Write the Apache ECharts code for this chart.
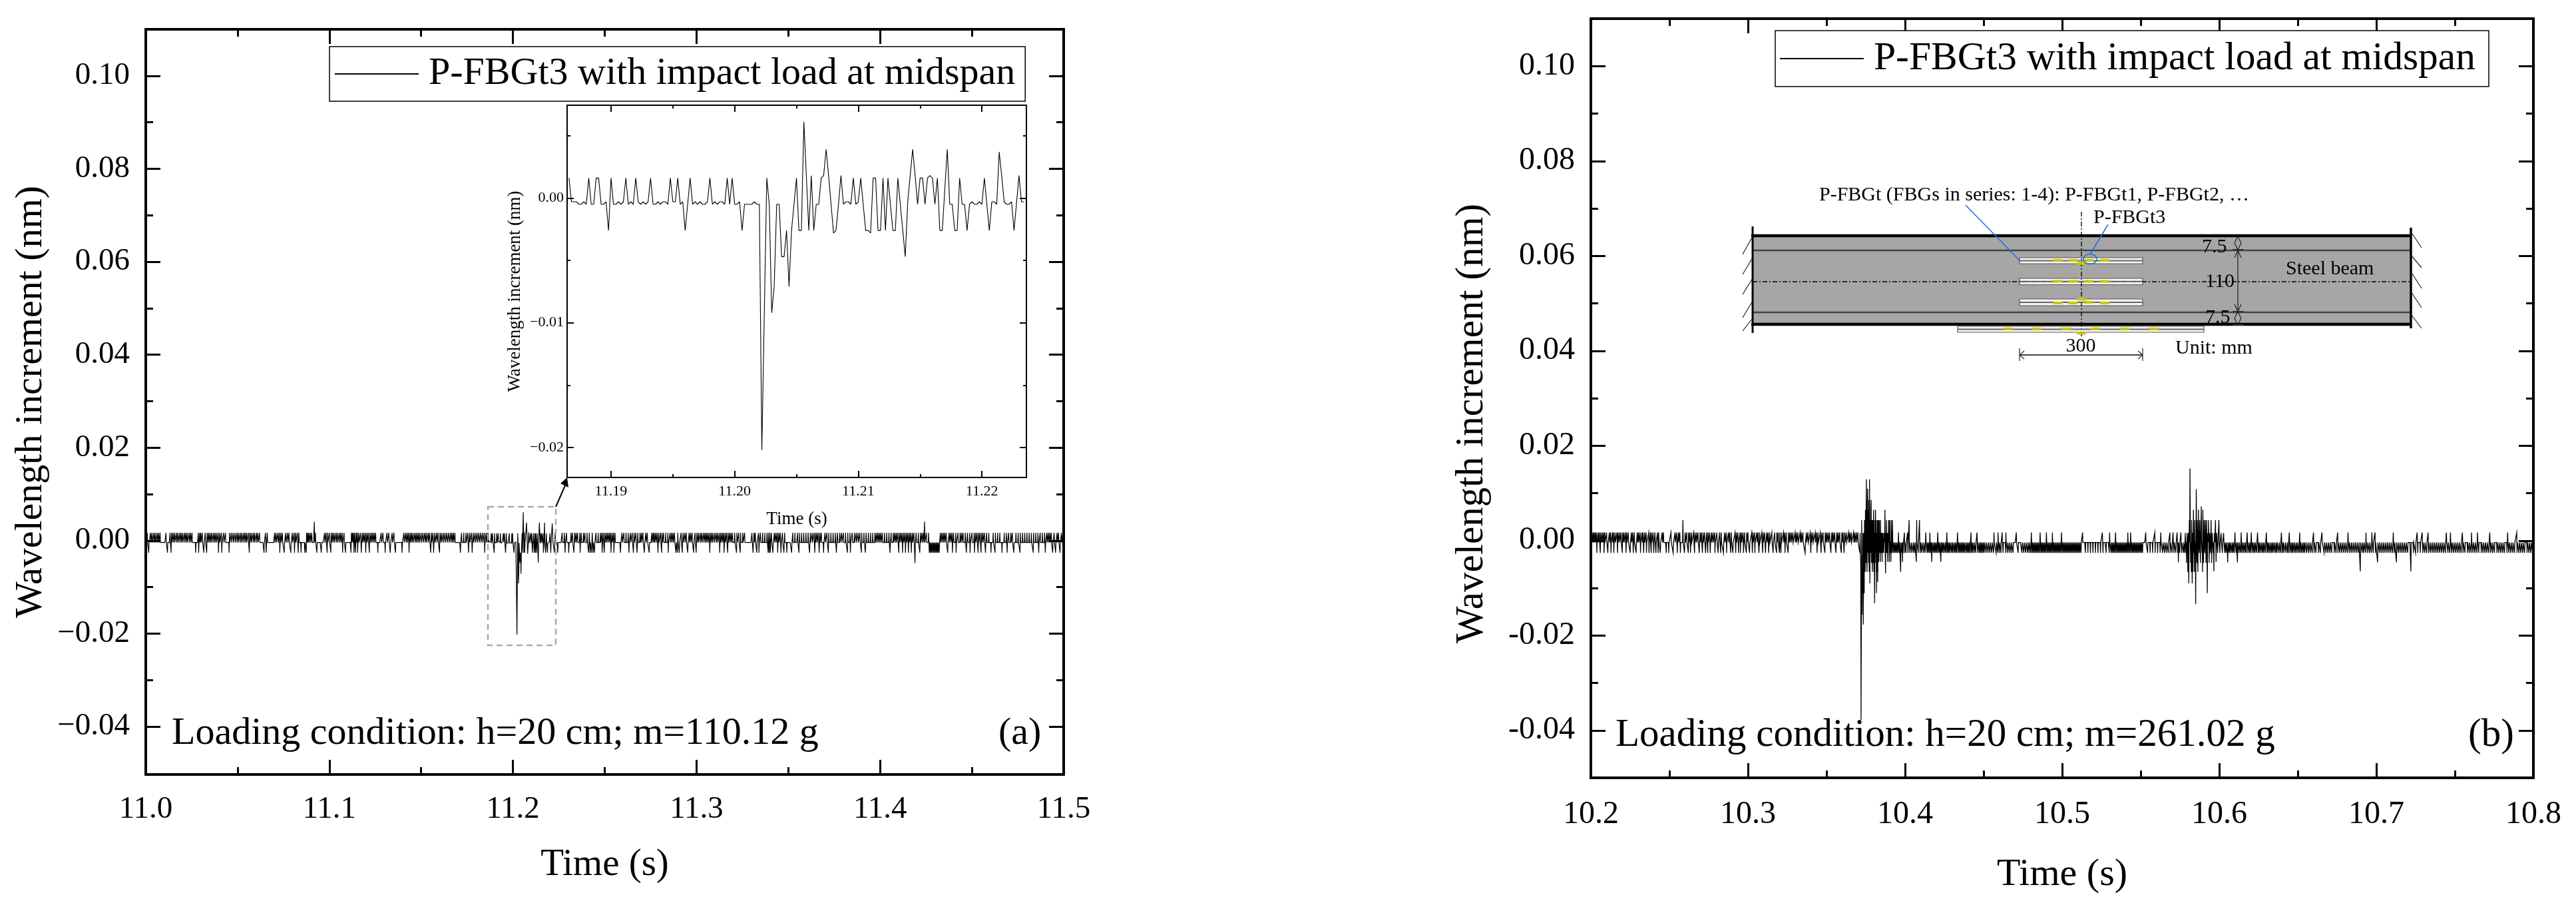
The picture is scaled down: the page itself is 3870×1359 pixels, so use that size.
<!DOCTYPE html>
<html>
<head>
<meta charset="utf-8">
<style>html,body{margin:0;padding:0;background:#fff}#c{width:3870px;height:1359px}</style>
<script src="https://cdn.jsdelivr.net/npm/echarts@6/dist/echarts.min.js"></script>
</head>
<body>
<div id="c"></div>
<script>
const seriesName = 'P-FBGt3 with impact load at midspan';
const yTicks = [-0.04,-0.02,0,0.02,0.04,0.06,0.08,0.10];
const yMinorTicks = [-0.03,-0.01,0.01,0.03,0.05,0.07,0.09];
const xTicksA = [11.0,11.1,11.2,11.3,11.4,11.5];
const xMinorA = [11.05,11.15,11.25,11.35,11.45];
const xTicksB = [10.2,10.3,10.4,10.5,10.6,10.7,10.8];
const xMinorB = [10.25,10.35,10.45,10.55,10.65,10.75];
const xTicksInset = [11.19,11.20,11.21,11.22];
const xMinorInset = [11.195,11.205,11.215];
const yTicksInset = [-0.02,-0.01,0];
const yMinorInset = [-0.015,-0.005,0.005];

const sampleStep = 0.0002;      // seconds between samples
const baseLevel = -0.0004, upLevel = 0.0017, downLevel = -0.0026;

// Inset: every sample, starting at sample 933 of panel (a)
const insetStartSample = 933;
const insetValues = [0.0016,-0.0003,-0.0003,-0.0003,-0.0005,-0.0005,-0.0003,-0.0005,0.0016,-0.0005,-0.0005,0.0016,0.0016,-0.0005,-0.0005,-0.0003,-0.0026,0.0016,-0.0005,-0.0005,-0.0003,-0.0005,-0.0003,0.0016,-0.0005,-0.0003,-0.0005,0.0016,-0.0003,-0.0005,-0.0003,-0.0005,-0.0003,0.0016,-0.0005,-0.0005,-0.0003,-0.0005,-0.0003,-0.0003,-0.0005,0.0016,-0.0003,-0.0003,0.0016,-0.0005,-0.0003,-0.0026,-0.0005,0.0016,-0.0005,-0.0003,-0.0005,-0.0003,-0.0005,-0.0005,-0.0003,0.0016,-0.0005,-0.0003,-0.0005,-0.0003,-0.0003,-0.0005,0.0016,-0.0005,0.0016,-0.0005,-0.0005,-0.0003,-0.0026,-0.0005,-0.0005,-0.0005,-0.0005,-0.0003,-0.0005,-0.0005,-0.0202,-0.0092,0.0016,-0.0005,-0.0092,-0.0071,-0.0005,-0.0005,-0.0047,-0.0047,-0.0026,-0.0071,-0.0026,-0.0005,0.0016,-0.0026,-0.0026,0.0061,0.0018,-0.0026,0.0018,-0.0026,-0.0005,-0.0005,0.0016,0.0018,0.0039,0.0018,-0.0005,-0.0028,-0.0026,-0.0005,0.0018,-0.0005,-0.0003,-0.0003,-0.0005,0.0016,-0.0005,-0.0003,0.0016,-0.0005,-0.0026,-0.0026,-0.0028,0.0016,0.0016,-0.0026,-0.0026,0.0016,-0.0026,0.0016,-0.0005,-0.0026,-0.0026,0.0016,-0.0005,-0.0026,-0.0047,-0.0003,0.0018,0.0039,0.0018,-0.0005,0.0016,0.0016,-0.0005,0.0016,0.0018,0.0016,-0.0005,0.0016,-0.0026,-0.0026,0.0007,0.0039,-0.0005,-0.0005,-0.0026,-0.0026,0.0016,-0.0005,-0.0005,-0.0026,-0.0005,-0.0003,-0.0005,-0.0005,-0.0003,-0.0005,0.0016,-0.0005,-0.0026,-0.0003,-0.0003,-0.0005,0.0037,0.0018,-0.0003,-0.0005,-0.0005,-0.0003,-0.0026,-0.0004,0.0018,-0.0003,-0.0003];

// Panel (a): sample numbers of the spikes, 0.2 ms per sample from 11.0 s
const aSampleCount = 2500;
const aUp = [4,8,13,17,22,26,31,35,39,55,59,66,70,74,78,83,87,92,96,100,105,109,113,118,122,126,143,147,150,154,158,162,167,171,175,179,184,188,192,197,201,206,212,217,228,233,238,243,248,252,257,261,266,270,274,279,283,287,292,296,301,305,310,326,331,351,355,360,364,368,372,377,381,386,390,395,399,404,408,413,417,438,441,444,448,452,462,487,491,495,500,505,509,513,518,522,527,531,535,540,560,563,566,569,573,576,580,585,590,594,598,602,606,610,614,618,622,626,641,646,652,657,662,666,671,676,680,698,703,708,712,716,720,724,728,733,737,741,745,750,755,760,764,769,773,778,782,787,792,796,801,805,810,815,820,825,830,834,838,842,860,866,872,877,882,887,892,897,902,907,912,917,922,927,931,1134,1140,1146,1158,1162,1168,1172,1176,1182,1186,1192,1196,1202,1208,1216,1222,1226,1232,1238,1242,1246,1250,1254,1258,1262,1266,1270,1274,1278,1297,1302,1308,1314,1320,1325,1330,1335,1340,1346,1350,1354,1358,1362,1366,1378,1382,1385,1389,1393,1397,1402,1406,1410,1416,1422,1428,1432,1436,1440,1444,1449,1453,1458,1463,1468,1472,1476,1480,1484,1488,1492,1496,1501,1505,1510,1514,1519,1523,1527,1531,1535,1539,1543,1548,1553,1557,1562,1566,1570,1574,1578,1582,1586,1590,1594,1598,1604,1610,1615,1620,1626,1631,1651,1654,1657,1660,1664,1669,1674,1680,1686,1692,1696,1700,1704,1708,1712,1716,1720,1724,1728,1734,1740,1762,1768,1775,1780,1786,1792,1798,1804,1810,1815,1820,1824,1828,1832,1836,1840,1846,1850,1855,1860,1866,1872,1878,1884,1890,1895,1900,1906,1912,1918,1924,1930,1935,1940,1945,1950,1956,1962,1968,1974,1980,1986,1990,1994,1998,2002,2006,2012,2018,2024,2030,2036,2040,2044,2048,2052,2056,2060,2064,2068,2072,2076,2080,2084,2088,2092,2098,2104,2110,2114,2118,2126,2132,2164,2168,2172,2176,2180,2184,2188,2192,2196,2200,2206,2212,2218,2222,2226,2232,2238,2244,2250,2256,2260,2264,2268,2272,2276,2280,2284,2290,2296,2302,2308,2314,2320,2326,2332,2338,2344,2350,2356,2360,2364,2370,2376,2382,2388,2394,2400,2406,2412,2418,2424,2430,2436,2442,2448,2454,2458,2462,2466,2470,2474,2478,2482,2486,2490,2494,2498];
const aDown = [8,59,69,136,144,158,166,198,207,227,282,322,328,365,377,395,405,415,423,433,437,466,478,494,504,536,544,559,567,571,577,587,599,609,632,652,666,680,698,717,776,784,800,857,879,889,923,1122,1142,1152,1166,1183,1206,1210,1214,1218,1222,1243,1249,1267,1275,1293,1316,1328,1338,1358,1371,1395,1405,1423,1444,1448,1453,1461,1476,1492,1499,1536,1563,1575,1585,1609,1619,1654,1664,1670,1695,1698,1701,1708,1721,1730,1738,1746,1759,1779,1808,1822,1834,1846,1859,1881,1911,1919,1949,1960,2027,2051,2061,2069,2077,2085,2108,2121,2134,2137,2140,2143,2146,2149,2152,2155,2158,2161,2184,2197,2207,2235,2245,2257,2267,2275,2287,2302,2313,2332,2346,2364,2381,2417,2432,2450,2470,2478,2490];
const aLarge = [[459,0.0041],[2095,-0.0048],[2121,0.0041]];

// Panel (b): sample numbers of the spikes, 0.2 ms per sample from 10.2 s
const bSampleCount = 3000;
const bUp = [3,7,10,14,18,23,27,31,36,41,44,50,54,59,63,69,72,77,83,86,91,96,101,105,110,114,119,125,129,133,138,144,148,152,157,163,166,171,176,184,189,193,198,204,207,212,216,221,227,231,255,262,268,273,279,283,300,305,311,315,320,327,331,336,341,348,352,357,362,369,373,378,384,389,394,401,405,410,415,422,426,431,438,442,447,452,459,463,468,475,479,484,489,496,500,505,512,516,521,528,532,537,544,548,553,560,564,569,576,580,585,592,596,601,606,613,617,622,629,633,638,643,650,654,659,666,670,675,682,686,691,698,702,707,714,718,723,730,734,739,746,750,755,760,767,771,776,783,787,792,799,803,808,813,820,824,829,836,840,845,850,979,998,1008,1046,1066,1079,1104,1133,1152,1167,1210,1229,1244,1283,1296,1309,1321,1354,1402,1430,1450,1469,1498,1540,1565,1628,1651,1670,1709,1718,1766,1795,1814,1843,1853,1866,1878,2035,2050,2070,2089,2102,2122,2150,2170,2198,2223,2256,2300,2327,2377,2396,2410,2438,2467,2486,2496,2534,2554,2582,2630,2646,2665,2684,2723,2736,2774,2803,2822,2861,2890,2918,2947,2972,2986];
const bDown = [19,30,42,54,64,73,85,100,112,125,135,144,158,168,177,185,192,200,207,214,221,240,248,262,275,285,298,310,317,330,345,355,365,372,380,395,405,413,422,432,445,452,461,470,476,486,495,505,514,522,535,547,556,566,580,591,600,605,618,628,682,700,720,733,745,764,780,797,806,990,994,999,1003,1009,1014,1020,1026,1031,1037,1042,1048,1053,1059,1064,1070,1074,1078,1082,1090,1094,1098,1102,1106,1110,1118,1122,1127,1131,1135,1139,1143,1148,1152,1157,1161,1165,1170,1174,1178,1182,1186,1190,1195,1199,1203,1207,1211,1215,1220,1225,1231,1236,1240,1244,1248,1252,1258,1264,1270,1276,1282,1290,1295,1300,1305,1312,1320,1326,1332,1338,1344,1360,1372,1378,1384,1390,1395,1400,1404,1408,1412,1416,1420,1424,1428,1432,1436,1440,1444,1448,1452,1456,1460,1464,1468,1472,1476,1480,1484,1488,1492,1496,1500,1504,1508,1512,1516,1520,1524,1528,1532,1536,1540,1544,1548,1552,1556,1560,1574,1582,1590,1598,1606,1614,1622,1630,1640,1650,1656,1660,1664,1668,1672,1676,1680,1684,1688,1692,1696,1700,1704,1708,1712,1716,1720,1724,1728,1732,1736,1740,1744,1748,1752,1756,1772,1780,1788,1796,1804,1812,1820,1826,1832,1838,1844,1850,1856,1862,1868,1874,1880,1886,2018,2022,2026,2031,2035,2040,2044,2048,2054,2058,2063,2068,2072,2077,2082,2086,2091,2096,2100,2105,2110,2114,2119,2124,2128,2133,2138,2142,2147,2152,2156,2161,2166,2170,2175,2180,2184,2190,2195,2200,2204,2210,2216,2220,2225,2230,2234,2239,2244,2249,2254,2258,2263,2268,2272,2278,2284,2290,2296,2302,2308,2316,2322,2334,2340,2346,2352,2358,2366,2372,2378,2384,2390,2396,2402,2408,2414,2420,2426,2432,2438,2444,2455,2460,2466,2472,2478,2484,2490,2497,2510,2516,2522,2528,2534,2540,2546,2552,2558,2570,2576,2582,2588,2594,2600,2618,2625,2632,2640,2648,2654,2660,2666,2672,2678,2684,2690,2696,2702,2708,2714,2720,2728,2734,2740,2746,2752,2758,2764,2770,2776,2782,2790,2796,2802,2808,2814,2820,2826,2834,2840,2846,2852,2858,2864,2870,2876,2884,2890,2896,2902,2908,2916,2922,2928,2934,2940,2948,2954,2960,2966,2972,2980,2986,2992,2998];
const bFirstImpact = [[856,-0.0026],[857,0.0016],[858,-0.0026],[859,-0.0047],[860,-0.0378],[861,-0.0156],[862,0.0043],[863,-0.0156],[864,-0.0067],[865,-0.0111],[866,0.0016],[867,-0.0177],[868,-0.0090],[869,0.0016],[870,-0.0111],[871,0.0043],[872,-0.0026],[873,-0.0066],[874,0.0065],[875,-0.0047],[876,0.0043],[877,0.0129],[878,-0.0047],[879,-0.0066],[880,0.0065],[881,0.0109],[882,-0.0026],[883,0.0065],[884,-0.0047],[885,0.0086],[886,-0.0066],[887,0.0129],[888,-0.0090],[889,0.0043],[890,-0.0026],[891,0.0065],[892,0.0086],[893,-0.0047],[894,0.0043],[895,-0.0026],[896,-0.0066],[897,0.0043],[898,-0.0047],[899,0.0016],[900,0.0065],[901,-0.0066],[902,0.0043],[903,-0.0132],[904,0.0016],[905,-0.0047],[906,0.0065],[907,-0.0026],[908,0.0043],[909,-0.0111],[910,0.0016],[911,-0.0066],[912,0.0043],[913,-0.0087],[914,0.0016],[915,0.0043],[916,-0.0045],[917,0.0016],[918,0.0043],[919,-0.0026],[920,0.0016],[921,-0.0045],[922,0.0043],[923,-0.0026],[924,0.0016],[925,-0.0026],[926,0.0016],[927,-0.0045],[928,0.0016],[929,-0.0026],[930,0.0016],[932,-0.0026],[934,0.0016],[936,0.0065],[937,-0.0026],[938,-0.0069],[939,0.0016],[940,-0.0026],[941,0.0043],[942,-0.0026],[943,0.0016],[945,-0.0045],[946,0.0016],[948,0.0043],[950,-0.0045],[951,0.0043],[953,-0.0026],[955,-0.0045],[956,0.0043],[958,-0.0026],[960,0.0043],[962,-0.0026],[966,-0.0026],[970,-0.0026],[974,-0.0026],[978,-0.0026],[982,-0.0026],[986,-0.0066],[992,-0.0045],[1013,0.0043],[1036,-0.0045],[1037,0.0043],[1046,0.0043],[1085,-0.0045],[1114,-0.0045]];
const bSecondImpact = [[1870,-0.0046],[1890,-0.0026],[1892,0.0016],[1894,-0.0026],[1896,-0.0047],[1898,0.0016],[1900,-0.0066],[1902,0.0016],[1903,-0.0090],[1905,0.0043],[1907,0.0152],[1909,-0.0047],[1911,-0.0066],[1912,0.0043],[1914,-0.0090],[1915,0.0016],[1916,-0.0066],[1918,0.0065],[1919,-0.0026],[1921,-0.0066],[1922,0.0043],[1923,-0.0026],[1925,-0.0134],[1927,0.0108],[1929,-0.0047],[1930,0.0043],[1932,-0.0066],[1934,0.0065],[1936,-0.0026],[1938,0.0043],[1940,-0.0047],[1943,0.0072],[1945,-0.0026],[1947,-0.0066],[1948,0.0065],[1950,-0.0047],[1952,0.0043],[1954,-0.0026],[1956,0.0043],[1958,-0.0047],[1960,0.0043],[1962,-0.0111],[1964,0.0016],[1966,0.0043],[1968,-0.0047],[1970,0.0016],[1972,-0.0026],[1974,0.0043],[1976,-0.0047],[1978,0.0016],[1981,-0.0026],[1983,-0.0065],[1985,0.0016],[1988,0.0043],[1990,-0.0045],[1992,0.0016],[1995,-0.0026],[1999,0.0043],[2002,-0.0026],[2006,0.0016],[2010,-0.0026],[2014,0.0016],[2027,-0.0046],[2058,-0.0046]];
const bLarge = [[293,0.0043],[2449,-0.0065],[2504,-0.0046],[2564,-0.0046],[2610,-0.0065]];

function trace(startTime, count, up, down, extras) {
  const v = new Array(count).fill(baseLevel);
  up.forEach(i => { v[i] = upLevel; });
  down.forEach(i => { v[i] = downLevel; });
  extras.forEach(p => { v[p[0]] = p[1]; });
  return v.map((y, i) => [startTime + i * sampleStep, y]);
}
const insetPairs = insetValues.map((y, i) => [insetStartSample + i, y]);
const aData = trace(11.0, aSampleCount, aUp, aDown, insetPairs.concat(aLarge));
const bData = trace(10.2, bSampleCount, bUp, bDown, bFirstImpact.concat(bSecondImpact, bLarge));
const insetData = insetValues.map((y, i) => [11.0 + (insetStartSample + i) * sampleStep, y]);

const serif = '"Liberation Serif","Times New Roman",serif';
const xAxes = [], yAxes = [];
function addFrame(g) {
  const firstX = xAxes.length, firstY = yAxes.length;
  const line = { show: true, onZero: false, lineStyle: { color: '#000', width: g.lw } };
  const base = { gridIndex: g.i, type: 'value', scale: true, splitLine: { show: false }, axisLine: line };
  const tk = (vals, len) => ({ show: true, inside: true, length: len, customValues: vals, lineStyle: { color: '#000', width: g.tw } });
  const lbl = (vals, fmt, size, margin) => ({ show: true, customValues: vals, formatter: fmt, fontFamily: serif, fontSize: size, color: '#000', margin, hideOverlap: false, showMinLabel: true, showMaxLabel: true });
  const xb = Object.assign({}, base, { min: g.xr[0], max: g.xr[1] });
  const yb = Object.assign({}, base, { min: g.yr[0], max: g.yr[1] });
  xAxes.push(Object.assign({}, xb, { position: 'bottom', axisTick: tk(g.xT, g.major), axisLabel: lbl(g.xT, g.xFmt, g.lab, g.xm), name: 'Time (s)', nameLocation: 'middle', nameGap: g.xng, nameTextStyle: { fontFamily: serif, fontSize: g.title, color: '#000' } }));
  xAxes.push(Object.assign({}, xb, { position: 'bottom', axisTick: tk(g.xM, g.minor), axisLabel: { show: false } }));
  xAxes.push(Object.assign({}, xb, { position: 'top', axisTick: tk(g.xT, g.major), axisLabel: { show: false } }));
  xAxes.push(Object.assign({}, xb, { position: 'top', axisTick: tk(g.xM, g.minor), axisLabel: { show: false } }));
  yAxes.push(Object.assign({}, yb, { position: 'left', axisTick: tk(g.yT, g.major), axisLabel: lbl(g.yT, g.yFmt, g.lab, g.ym), name: 'Wavelength increment (nm)', nameLocation: 'middle', nameGap: g.yng, nameTextStyle: { fontFamily: serif, fontSize: g.ytitle, color: '#000', padding: g.namePad || 0 } }));
  yAxes.push(Object.assign({}, yb, { position: 'left', axisTick: tk(g.yM, g.minor), axisLabel: { show: false } }));
  yAxes.push(Object.assign({}, yb, { position: 'right', axisTick: tk(g.yT, g.major), axisLabel: { show: false } }));
  yAxes.push(Object.assign({}, yb, { position: 'right', axisTick: tk(g.yM, g.minor), axisLabel: { show: false } }));
  return [firstX, firstY];
}
const minusFmt = v => (v < 0 ? '\u2212' : '') + Math.abs(v).toFixed(2);
const hyphenFmt = v => (v < 0 ? '-' : '') + Math.abs(v).toFixed(2);
const fmt1 = v => v.toFixed(1), fmt2 = v => v.toFixed(2);
const aAx = addFrame({ i: 0, lw: 4, tw: 3, major: 22, minor: 11, lab: 47, title: 57, ytitle: 58, xr: [11.0, 11.5], yr: [-0.0503, 0.11], xT: xTicksA, xM: xMinorA, yT: yTicks, yM: yMinorTicks, xFmt: fmt1, yFmt: minusFmt, xm: 29, ym: 24, xng: 108, yng: 143 });
const bAx = addFrame({ i: 1, lw: 4, tw: 3, major: 22, minor: 11, lab: 48, title: 58, ytitle: 59, xr: [10.2, 10.8], yr: [-0.05, 0.11], xT: xTicksB, xM: xMinorB, yT: yTicks, yM: yMinorTicks, xFmt: fmt1, yFmt: hyphenFmt, xm: 31, ym: 24, xng: 117, yng: 149, namePad: [0, 76, 0, 0] });
const iAx = addFrame({ i: 2, lw: 2, tw: 2, major: 10, minor: 5, lab: 22, title: 27, ytitle: 27, xr: [11.18645, 11.2236], yr: [-0.0224, 0.00744], xT: xTicksInset, xM: xMinorInset, yT: yTicksInset, yM: yMinorInset, xFmt: fmt2, yFmt: minusFmt, xm: 10, ym: 5, xng: 49, yng: 65 });

const gfx = [];
const T = (text, x, y, size, align) => gfx.push({ type: 'text', z: 50, style: { text, x, y, fontFamily: serif, fontSize: size, fill: '#000', align: align || 'left', verticalAlign: 'middle' } });
const L = (x1, y1, x2, y2, stroke, w, dash) => gfx.push({ type: 'line', z: 20, shape: { x1, y1, x2, y2 }, style: { stroke, lineWidth: w, lineDash: dash || null } });
const R = (x, y, width, height, fill, stroke, w) => gfx.push({ type: 'rect', z: 15, shape: { x, y, width, height }, style: { fill, stroke: stroke || null, lineWidth: w || 0 } });

// panel annotations
T('Loading condition: h=20 cm; m=110.12 g', 258, 1102, 58);
T('(a)', 1500, 1102, 58);
T('Loading condition: h=20 cm; m=261.02 g', 2427, 1104, 59);
T('(b)', 3708, 1104, 59);
gfx.push({ type: 'rect', z: 20, shape: { x: 733, y: 761, width: 102, height: 208 }, style: { fill: null, stroke: '#aaaaaa', lineWidth: 2.5, lineDash: [9, 6] } });
L(835, 761, 849, 729, '#000', 2);
gfx.push({ type: 'polygon', z: 21, shape: { points: [[852, 717], [842, 726], [854, 732]] }, style: { fill: '#000' } });

// beam sketch in panel (b)
const beamGrey = '#a6a6a6';
R(2633, 354, 988, 133, beamGrey);
L(2633, 376, 3621, 376, '#444', 2.5);
L(2633, 469, 3621, 469, '#444', 2.5);
L(2631, 354, 3623, 354, '#000', 4.5);
L(2631, 487, 3623, 487, '#000', 4.5);
L(2633, 340, 2633, 500, '#000', 3);
L(3622, 342, 3622, 493, '#000', 3.5);
[[355, 382], [387, 412], [418, 442], [452, 477], [478, 497]].forEach(p => L(2633, p[0], 2618, p[1], '#222', 1.2));
[[348, 372], [383, 402], [408, 433], [438, 462], [472, 493]].forEach(p => L(3622, p[0], 3638, p[1], '#222', 1.2));
L(2633, 423, 3621, 423, '#000', 1.3, [7, 3, 2, 3]);
L(3127, 318, 3127, 508, '#000', 1.3, [7, 3, 2, 3]);
const plate = (x, y, w, h) => { R(x, y, w, h, '#f4f4f4', '#555', 1.2); L(x, y + h / 2, x + w, y + h / 2, '#666', 2); };
plate(3034, 387, 185, 9); plate(3034, 418, 185, 9.5); plate(3034, 449, 185, 10); plate(2941, 490, 370, 9);
const Y = (cx, cy) => gfx.push({ type: 'rect', z: 22, shape: { x: cx - 7, y: cy - 2, width: 14, height: 4 }, style: { fill: '#c9c900' } });
[3091.5, 3114.5, 3138, 3162].forEach(x => { Y(x, 391); Y(x, 422.5); });
[[3091.5, 455], [3114.5, 455], [3138, 454], [3162, 455], [3127, 449.5], [3127, 395.5], [3127, 500.5]].forEach(p => Y(p[0], p[1]));
[3017, 3060, 3104, 3148, 3192, 3236].forEach(x => Y(x, 494));
L(2953, 308, 3034, 391, '#1f6fd8', 1.5);
L(3167, 337, 3140, 382, '#1f6fd8', 1.5);
gfx.push({ type: 'ellipse', z: 23, shape: { cx: 3140, cy: 389, rx: 10, ry: 7.5 }, style: { fill: null, stroke: '#1f6fd8', lineWidth: 1.5 } });
L(3362, 376, 3362, 468, '#222', 1.3);
L(3354, 375, 3371, 375, '#333', 2); L(3354, 468, 3371, 468, '#333', 2); L(3354, 488, 3371, 488, '#333', 2);
[[355, 365, 375], [468, 478, 488]].forEach(p => gfx.push({ type: 'polygon', z: 21, shape: { points: [[3362, p[0]], [3357, p[1]], [3362, p[2]], [3367, p[1]]] }, style: { fill: null, stroke: '#222', lineWidth: 1.2 } }));
L(3357, 387, 3362, 376, '#222', 1.2); L(3367, 387, 3362, 376, '#222', 1.2); L(3357, 457, 3362, 468, '#222', 1.2); L(3367, 457, 3362, 468, '#222', 1.2);
L(3034, 533, 3219, 533, '#444', 2);
L(3034, 523, 3034, 542, '#333', 1.3); L(3219, 523, 3219, 542, '#333', 1.3);
L(3034, 533, 3041, 527, '#333', 1.3); L(3034, 533, 3041, 539, '#333', 1.3); L(3219, 533, 3212, 527, '#333', 1.3); L(3219, 533, 3212, 539, '#333', 1.3);
T('P-FBGt (FBGs in series: 1-4): P-FBGt1, P-FBGt2, \u2026', 2733, 293, 30);
T('P-FBGt3', 3145, 327, 30);
T('7.5', 3308, 371, 30);
T('7.5', 3313, 477, 30);
R(3316, 408, 38, 30, beamGrey);
T('110', 3335, 423, 30, 'center');
T('Steel beam', 3434, 404, 30);
T('300', 3126, 520, 30, 'center');
T('Unit: mm', 3268, 523, 30);

const legendBase = { orient: 'horizontal', selectedMode: false, data: [seriesName], backgroundColor: '#fff', borderColor: '#000', borderWidth: 1.5, icon: 'rect', itemWidth: 126, itemHeight: 2, itemStyle: { color: '#000', opacity: 1 } };
const option = {
  animation: false,
  backgroundColor: '#fff',
  grid: [
    { left: 219, top: 44, width: 1379, height: 1119, show: false, outerBoundsMode: 'none' },
    { left: 2390, top: 28, width: 1416, height: 1140, show: false, outerBoundsMode: 'none' },
    { left: 852, top: 158, width: 690, height: 559, show: false, outerBoundsMode: 'none' }
  ],
  legend: [
    Object.assign({}, legendBase, { left: 495, top: 70, padding: [12, 15, 12, 8], textStyle: { fontFamily: serif, fontSize: 58, color: '#000', padding: [0, 0, 0, 10] } }),
    Object.assign({}, legendBase, { left: 2667, top: 46, padding: [12, 20, 12, 7], textStyle: { fontFamily: serif, fontSize: 59.5, color: '#000', padding: [0, 0, 0, 10] } })
  ],
  xAxis: xAxes,
  yAxis: yAxes,
  series: [
    { name: seriesName, type: 'line', xAxisIndex: aAx[0], yAxisIndex: aAx[1], data: aData, showSymbol: false, symbol: 'none', sampling: false, lineStyle: { color: '#000', width: 1.2, join: 'miter' }, itemStyle: { color: '#000' }, silent: true, z: 5 },
    { name: seriesName, type: 'line', xAxisIndex: bAx[0], yAxisIndex: bAx[1], data: bData, showSymbol: false, symbol: 'none', sampling: false, lineStyle: { color: '#000', width: 1.3, join: 'miter' }, itemStyle: { color: '#000' }, silent: true, z: 5 },
    { name: 'Inset detail', type: 'line', xAxisIndex: iAx[0], yAxisIndex: iAx[1], data: insetData, showSymbol: false, symbol: 'none', lineStyle: { color: '#000', width: 1.1 }, itemStyle: { color: '#000' }, silent: true, z: 5 }
  ],
  graphic: { elements: gfx }
};
echarts.init(document.getElementById('c'), null, { renderer: 'canvas' }).setOption(option);
</script>
</body>
</html>
